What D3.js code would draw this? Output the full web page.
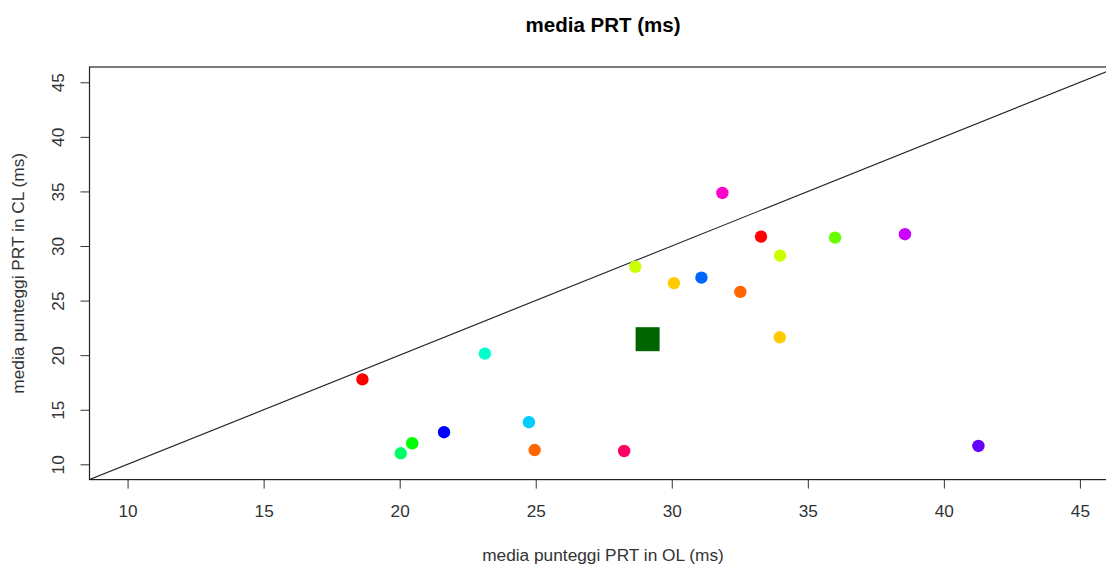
<!DOCTYPE html>
<html>
<head>
<meta charset="utf-8">
<script src="https://cdn.jsdelivr.net/npm/d3@7"></script>
<style>
  html, body { margin: 0; padding: 0; background: #fff; }
  svg { display: block; font-family: "Liberation Sans", Arial, sans-serif; }
</style>
</head>
<body>
<svg id="chart" width="1106" height="565"></svg>
<script>
// ---- data ----
const olScores = [18.63, 24.96, 30.08, 28.66, 36.00, 20.46, 20.04, 23.13, 24.75, 31.09, 21.63, 41.27, 38.57, 31.86, 28.25, 33.28, 32.52, 33.97, 33.98];
const clScores = [17.78, 11.31, 26.60, 28.10, 30.77, 11.93, 11.01, 20.14, 13.86, 27.10, 12.94, 11.68, 31.08, 34.86, 11.22, 30.86, 25.80, 21.64, 29.12];
const pointColors = ["#FF0000", "#FF6600", "#FFCC00", "#CCFF00", "#66FF00", "#00FF00", "#00FF66", "#00FFCC", "#00CCFF", "#0066FF", "#0000FF", "#6600FF", "#CC00FF", "#FF00CC", "#FF0066", "#FF0000", "#FF6600", "#FFCC00", "#CCFF00"];
const xTicks = [10, 15, 20, 25, 30, 35, 40, 45];
const yTicks = [10, 15, 20, 25, 30, 35, 40, 45];
const axisDomain = [8.6, 46.4];
const titleText = "media PRT (ms)";
const xLabel = "media punteggi PRT in OL (ms)";
const yLabel = "media punteggi PRT in CL (ms)";

(function () {
  const svg = d3.select("#chart");
  const pL = 89.5, pR = 1118, pT = 67, pB = 479.6;
  const x = d3.scaleLinear().domain(axisDomain).range([pL, pR]);
  const y = d3.scaleLinear().domain(axisDomain).range([pB, pT]);

  svg.append("defs").append("clipPath").attr("id", "clip")
    .append("rect").attr("x", pL).attr("y", pT).attr("width", pR - pL).attr("height", pB - pT);

  // title
  svg.append("text").attr("x", 603).attr("y", 32)
    .attr("text-anchor", "middle").attr("font-weight", "bold").attr("font-size", 20.5)
    .attr("fill", "#000").text(titleText);

  // axes
  const xAxis = svg.append("g").attr("transform", `translate(0,${pB})`)
    .call(d3.axisBottom(x).tickValues(xTicks).tickSize(9).tickPadding(16).tickFormat(d3.format("d")));
  const yAxis = svg.append("g").attr("transform", `translate(${pL},0)`)
    .call(d3.axisLeft(y).tickValues(yTicks).tickSize(9).tickPadding(8).tickFormat(d3.format("d")));
  [xAxis, yAxis].forEach(g => {
    g.select(".domain").remove();
    g.selectAll("line").attr("stroke", "#333").attr("stroke-width", 1);
    g.selectAll("text").attr("font-size", 17.2).attr("fill", "#333")
      .attr("font-family", "Liberation Sans, Arial, sans-serif");
  });
  yAxis.selectAll(".tick text")
    .attr("text-anchor", "middle")
    .attr("dy", null)
    .attr("x", null)
    .attr("transform", "translate(-30,0) rotate(-90)")
    .attr("dominant-baseline", "middle");

  // axis titles
  svg.append("text").attr("x", 603).attr("y", 561)
    .attr("text-anchor", "middle").attr("font-size", 17.3).attr("fill", "#333").text(xLabel);
  svg.append("text").attr("transform", `translate(24,${(pT + pB) / 2}) rotate(-90)`)
    .attr("text-anchor", "middle").attr("font-size", 17.3).attr("fill", "#333").text(yLabel);

  // plot
  const plot = svg.append("g").attr("clip-path", "url(#clip)");
  plot.append("line")
    .attr("x1", x(axisDomain[0])).attr("y1", y(axisDomain[0]))
    .attr("x2", x(axisDomain[1])).attr("y2", y(axisDomain[1]))
    .attr("stroke", "#222").attr("stroke-width", 1.1);

  const pts = olScores.map((v, i) => ({ ol: v, cl: clScores[i], c: pointColors[i] }));
  plot.selectAll("circle.pt").data(pts).join("circle").attr("class", "pt")
    .attr("cx", d => x(d.ol)).attr("cy", d => y(d.cl)).attr("r", 6.2).attr("fill", d => d.c);

  const meanOL = d3.mean(olScores), meanCL = d3.mean(clScores);
  const sq = 24;
  plot.append("rect")
    .attr("x", x(meanOL) - sq / 2).attr("y", y(meanCL) - sq / 2)
    .attr("width", sq).attr("height", sq).attr("fill", "#006400");

  // box
  svg.append("rect").attr("x", pL).attr("y", pT).attr("width", pR - pL).attr("height", pB - pT)
    .attr("fill", "none").attr("stroke", "#222").attr("stroke-width", 1.2);
})();
</script>
</body>
</html>
